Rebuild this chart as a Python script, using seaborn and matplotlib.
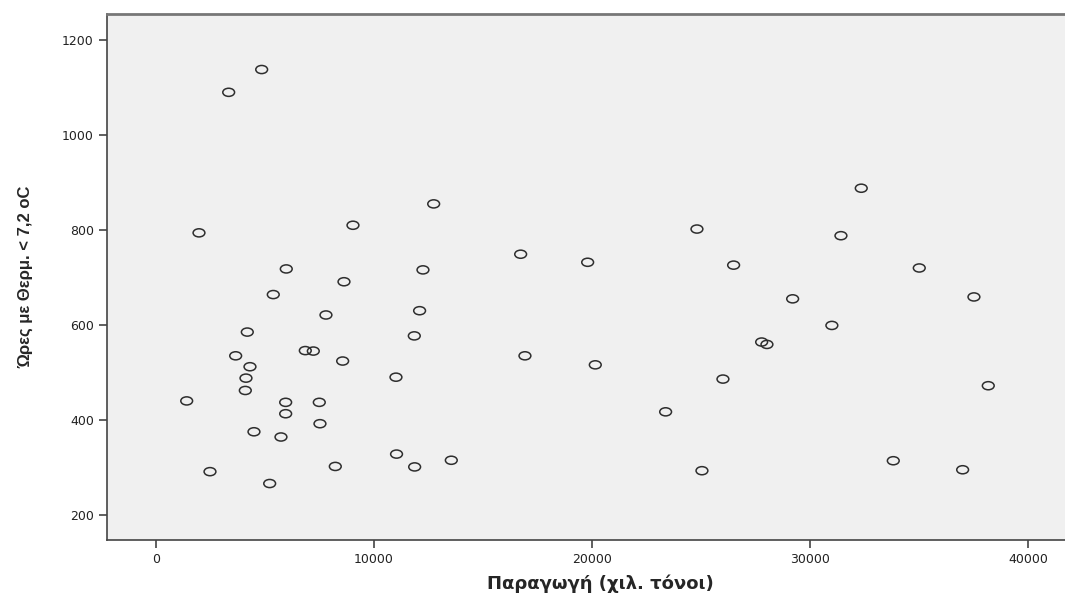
import numpy as np
import pandas as pd
import seaborn as sns
import matplotlib.pyplot as plt
from matplotlib.path import Path
from matplotlib.transforms import Affine2D

# production (thousand tonnes) vs hours below 7.2 oC
production = [3346, 4858, 1985, 9043, 5986, 8631, 5390, 7805, 4199, 3666,
              4322, 4139, 4108, 1421, 5958, 7499, 5958, 7530, 4505, 5743,
              2489, 8233, 5225, 6858, 7225, 8570, 11014, 11040, 12742, 24810,
              16729, 19800, 26490, 12251, 12097, 11854, 27775, 28018, 16926, 20150,
              26001, 23374, 11870, 13550, 25039, 32341, 31410, 35000, 29196, 37506,
              30994, 38163, 33809, 36988]
hours = [1090, 1138, 794, 810, 718, 691, 664, 621, 585, 535,
         512, 488, 462, 440, 437, 437, 413, 392, 375, 364,
         291, 302, 266, 546, 545, 524, 490, 328, 855, 802,
         749, 732, 726, 716, 630, 577, 564, 559, 535, 516,
         486, 417, 301, 315, 293, 888, 788, 720, 655, 659,
         599, 472, 314, 295]

x_ticks = [0, 10000, 20000, 30000, 40000]
y_ticks = [200, 400, 600, 800, 1000, 1200]

df = pd.DataFrame({'x': production, 'y': hours})

sns.set_theme(style="ticks")
plt.rcParams['font.family'] = ['DejaVu Sans']

fig = plt.figure(figsize=(10.65, 5.95), dpi=100)
ax = fig.add_axes([0.1005, 0.0924, 0.8995, 0.8841])
ax.set_facecolor('#f0f0f0')

# SPSS draws slightly flattened open circles
ellipse = Path.unit_circle().transformed(Affine2D().scale(1.45, 1.0))

sns.scatterplot(data=df, x='x', y='y', ax=ax, marker=ellipse, s=72,
                facecolor='none', edgecolor='#2e2e2e', linewidth=1.1)

ax.set_xlim(-2230, 41680)
ax.set_ylim(147, 1255)
ax.set_xticks(x_ticks)
ax.set_yticks(y_ticks)
ax.tick_params(axis='both', direction='out', length=6, width=1.2,
               color='#444444', labelsize=9, labelcolor='#222222')

for side in ['left', 'bottom']:
    ax.spines[side].set_color('#444444')
    ax.spines[side].set_linewidth(1.2)
ax.spines['top'].set_color('#777777')
ax.spines['top'].set_linewidth(2)
ax.spines['right'].set_visible(False)

ax.set_xlabel('Παραγωγή (χιλ. τόνοι)', fontsize=13, fontweight='bold')
ax.xaxis.set_label_coords(0.515, -0.066)
ax.set_ylabel('Ώρες με Θερμ. < 7,2 oC', fontsize=12, fontweight='bold',
              family=['Liberation Sans Narrow', 'Liberation Sans', 'DejaVu Sans'])
ax.yaxis.set_label_coords(-0.077, 0.5)

fig.savefig('out.png', dpi=100)
